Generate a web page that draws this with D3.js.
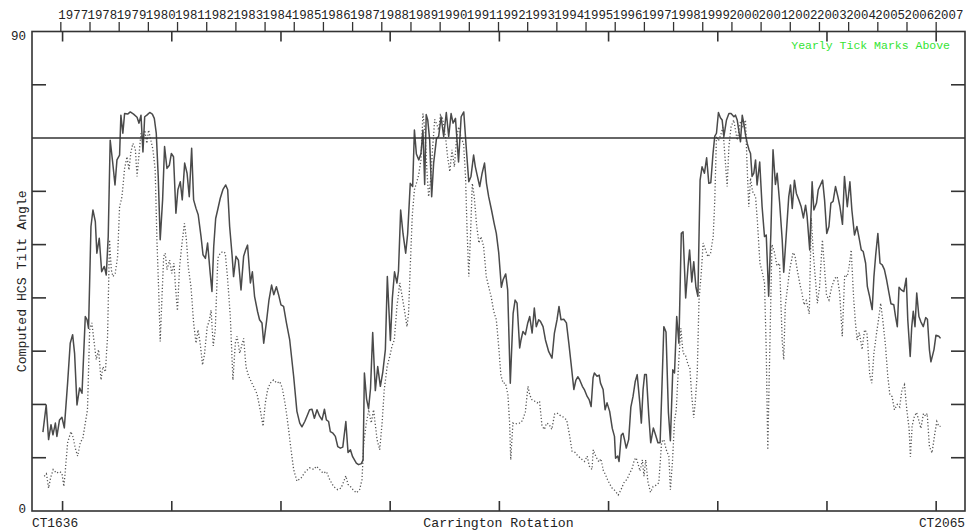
<!DOCTYPE html>
<html>
<head>
<meta charset="utf-8">
<script src="https://cdn.jsdelivr.net/npm/d3@7"></script>
<style>
  html, body { margin: 0; padding: 0; background: #fff; }
  svg { display: block; }
  text { font-family: "Liberation Mono", "DejaVu Sans Mono", monospace; fill: #222; }
</style>
</head>
<body>
<svg id="chart" width="967" height="531"></svg>
<script>
// Computed heliospheric current sheet tilt angle per Carrington rotation.
// Each entry: [Carrington rotation, tilt angle in degrees].
const tiltSolid = [
  [1641.0,14.8],[1642.5,19.9],[1643.6,13.4],[1644.7,16.2],[1645.6,14.3],[1646.7,16.5],[1647.4,14.0],[1648.6,17.1],
  [1649.7,17.6],[1650.8,15.6],[1652.3,24.0],[1653.5,31.5],[1654.6,33.1],[1655.5,29.6],[1656.6,19.9],[1657.8,23.1],
  [1658.9,22.1],[1660.4,36.5],[1661.2,35.9],[1661.9,34.3],[1663.0,53.4],[1663.9,56.5],[1665.0,54.3],[1665.7,48.4],
  [1666.8,51.2],[1667.9,44.9],[1669.1,45.9],[1670.0,44.3],[1670.9,51.5],[1671.8,69.6],[1672.9,65.6],[1674.0,61.2],
  [1674.9,65.9],[1676.1,66.8],[1676.7,74.3],[1677.6,70.9],[1678.4,74.6],[1679.8,74.5],[1681.0,74.9],[1682.5,74.5],
  [1684.1,73.9],[1685.0,72.8],[1685.9,74.3],[1686.8,67.4],[1687.6,74.0],[1688.6,74.3],[1689.9,74.8],[1691.1,74.5],
  [1692.0,73.7],[1692.9,70.9],[1693.8,62.8],[1694.7,50.9],[1695.8,58.4],[1696.7,68.4],[1697.8,64.3],[1698.9,64.9],
  [1699.8,67.1],[1700.8,66.5],[1701.9,55.9],[1702.8,60.3],[1703.9,61.8],[1704.8,58.4],[1705.9,65.3],[1707.0,63.4],
  [1708.0,59.0],[1709.1,68.1],[1710.0,58.4],[1711.1,56.8],[1712.1,55.6],[1713.4,51.5],[1714.3,48.1],[1715.4,47.4],
  [1716.4,50.3],[1717.6,44.6],[1718.4,41.2],[1719.2,49.6],[1720.1,54.9],[1721.0,56.5],[1722.2,58.7],[1723.4,60.3],
  [1724.7,61.2],[1725.6,60.3],[1726.5,53.4],[1727.6,48.1],[1728.3,44.0],[1729.4,47.8],[1730.5,47.1],[1731.7,41.5],
  [1732.9,47.8],[1733.8,49.0],[1734.7,49.9],[1736.0,42.8],[1736.9,44.9],[1737.9,40.3],[1739.3,37.4],[1740.2,35.9],
  [1741.3,35.3],[1742.1,31.5],[1743.3,35.3],[1744.5,39.6],[1745.7,42.4],[1746.7,40.6],[1747.9,42.1],[1748.9,40.6],
  [1750.0,38.7],[1751.2,38.4],[1752.5,35.3],[1754.0,32.1],[1755.8,25.3],[1757.3,18.7],[1758.6,16.5],[1759.6,15.8],
  [1760.9,16.8],[1761.9,17.8],[1763.1,19.0],[1764.2,19.1],[1765.3,17.4],[1766.5,19.0],[1767.7,17.8],[1768.8,17.1],
  [1769.9,19.1],[1770.8,17.1],[1771.8,16.8],[1772.6,14.9],[1773.8,14.6],[1774.9,14.0],[1776.0,12.1],[1777.2,11.8],
  [1778.3,12.0],[1779.7,16.8],[1780.7,11.0],[1781.8,11.5],[1782.8,10.2],[1784.5,9.0],[1785.5,8.7],[1786.8,8.9],
  [1787.6,9.6],[1788.2,25.9],[1789.2,21.0],[1790.1,19.2],[1791.0,23.0],[1792.0,33.5],[1793.2,22.6],[1794.3,27.1],
  [1795.5,23.4],[1796.6,26.0],[1797.8,30.3],[1798.7,44.0],[1800.1,32.0],[1801.0,40.0],[1802.0,44.9],[1803.1,42.8],
  [1803.8,45.0],[1804.8,56.5],[1805.9,52.0],[1807.1,48.4],[1808.0,52.0],[1809.2,61.5],[1810.3,60.9],[1811.1,71.5],
  [1812.0,67.0],[1813.1,65.9],[1814.1,67.1],[1815.0,71.5],[1815.8,61.3],[1816.5,74.4],[1817.2,73.4],[1818.1,69.6],
  [1819.0,59.0],[1819.9,65.3],[1821.2,69.9],[1822.2,70.3],[1823.3,74.0],[1824.5,70.3],[1825.7,74.8],[1826.8,70.3],
  [1827.9,74.6],[1828.8,72.8],[1829.9,73.7],[1831.3,65.5],[1832.5,74.0],[1833.7,74.9],[1834.9,67.8],[1836.0,61.8],
  [1837.0,62.8],[1838.2,66.8],[1839.0,64.6],[1839.8,63.1],[1841.0,60.9],[1842.1,63.4],[1843.2,65.3],[1844.1,61.5],
  [1845.1,59.0],[1846.4,56.5],[1847.6,54.0],[1848.6,52.1],[1849.7,48.5],[1850.9,42.0],[1851.7,43.4],[1852.9,44.5],
  [1853.8,41.5],[1855.0,24.0],[1856.3,37.1],[1857.2,39.6],[1858.1,39.0],[1859.3,30.6],[1859.9,32.1],[1860.8,33.7],
  [1861.9,33.1],[1863.0,35.3],[1863.9,36.5],[1865.0,33.4],[1866.0,38.1],[1866.9,34.6],[1868.0,35.9],[1868.8,35.6],
  [1870.0,34.6],[1871.1,32.1],[1872.6,29.9],[1874.1,28.7],[1875.2,33.4],[1876.4,35.9],[1877.3,38.4],[1878.2,35.9],
  [1879.5,36.0],[1880.7,35.3],[1881.8,31.5],[1882.8,27.8],[1884.1,22.8],[1885.0,24.5],[1885.9,25.2],[1886.8,24.6],
  [1888.0,23.4],[1888.9,22.8],[1890.2,21.5],[1891.1,20.9],[1892.0,19.6],[1892.9,25.0],[1893.5,25.9],[1894.7,25.3],
  [1895.7,25.5],[1896.3,24.0],[1897.5,22.8],[1898.4,19.0],[1899.3,20.3],[1900.5,18.7],[1901.7,15.5],[1902.7,14.0],
  [1903.2,9.9],[1904.2,10.3],[1904.8,9.3],[1905.8,14.2],[1906.6,14.6],[1907.3,13.4],[1908.1,11.8],[1909.2,13.4],
  [1910.2,19.5],[1911.2,21.5],[1912.2,24.3],[1913.1,25.6],[1914.3,20.3],[1915.0,16.5],[1915.8,22.8],[1916.5,25.6],
  [1917.3,25.6],[1918.4,18.0],[1919.3,12.8],[1920.5,15.6],[1921.5,14.3],[1922.6,12.8],[1923.6,12.8],[1924.4,22.8],
  [1925.3,34.6],[1926.3,33.6],[1927.4,18.5],[1928.3,13.2],[1929.4,26.5],[1930.2,25.9],[1931.2,36.5],[1932.2,31.5],
  [1933.3,52.1],[1934.1,52.4],[1935.3,40.0],[1936.4,46.0],[1937.1,49.0],[1938.1,43.0],[1939.0,46.8],[1940.0,42.0],
  [1940.9,40.3],[1941.9,62.1],[1942.8,64.6],[1943.9,63.4],[1944.9,66.3],[1945.9,61.5],[1946.8,61.6],[1947.8,67.0],
  [1948.6,70.3],[1949.4,70.9],[1950.3,74.8],[1951.2,73.8],[1952.0,73.4],[1952.8,70.3],[1954.0,73.4],[1955.1,74.6],
  [1956.1,74.6],[1957.4,74.0],[1958.1,74.3],[1958.9,73.4],[1959.6,71.5],[1960.4,69.3],[1961.2,74.3],[1961.9,72.8],
  [1962.7,70.6],[1963.5,69.0],[1964.3,67.8],[1965.0,67.1],[1965.7,62.8],[1966.5,63.4],[1967.3,65.9],[1968.0,61.2],
  [1969.2,65.5],[1970.3,57.1],[1971.4,51.5],[1972.2,51.8],[1973.3,40.3],[1974.3,52.0],[1975.3,67.8],[1976.4,61.3],
  [1977.2,63.4],[1978.3,58.0],[1979.5,50.9],[1980.2,44.8],[1981.5,52.8],[1982.5,59.0],[1983.3,61.2],[1984.1,56.8],
  [1985.1,62.1],[1986.0,59.6],[1987.1,58.4],[1988.2,57.1],[1989.2,55.0],[1990.2,57.4],[1990.9,55.3],[1992.1,49.0],
  [1993.2,61.8],[1994.0,56.5],[1995.2,57.8],[1996.0,60.3],[1997.0,61.2],[1998.0,62.1],[1998.9,58.4],[1999.9,52.1],
  [2000.9,53.4],[2001.8,57.8],[2002.8,58.1],[2003.9,60.9],[2005.0,59.0],[2005.9,57.2],[2007.1,53.8],[2008.0,62.8],
  [2009.3,57.1],[2010.5,61.8],[2011.4,56.5],[2012.6,51.8],[2013.7,53.4],[2014.6,51.5],[2015.7,49.0],[2016.6,48.7],
  [2017.7,46.5],[2018.5,42.1],[2019.4,40.5],[2020.7,37.8],[2021.5,44.0],[2022.3,48.0],[2023.3,52.1],[2024.3,46.5],
  [2025.3,46.2],[2026.3,45.3],[2027.3,43.4],[2028.4,40.9],[2029.3,38.9],[2030.6,38.7],[2031.4,36.5],[2032.2,34.6],
  [2033.0,42.0],[2034.0,41.5],[2035.2,41.2],[2036.3,43.7],[2037.0,35.9],[2038.1,29.0],[2038.8,34.5],[2039.5,37.5],
  [2040.3,34.6],[2041.1,40.9],[2042.1,36.5],[2043.0,35.5],[2044.1,34.6],[2045.2,36.3],[2046.0,36.0],[2046.9,30.3],
  [2047.6,28.0],[2049.0,30.3],[2049.9,33.0],[2051.2,32.8],[2052.0,32.4]
];

const tiltDotted = [
  [1641.6,6.5],[1642.6,7.0],[1643.6,4.3],[1644.5,6.2],[1645.7,7.8],[1647.2,7.1],[1648.6,7.4],[1649.7,7.1],
  [1650.6,4.6],[1651.3,7.8],[1652.3,12.8],[1653.8,14.9],[1654.8,13.9],[1655.8,11.8],[1656.9,10.3],[1658.1,12.8],
  [1659.3,13.7],[1660.4,16.5],[1661.4,19.0],[1662.4,34.0],[1663.4,35.3],[1664.5,31.5],[1665.4,28.4],[1666.5,30.3],
  [1667.6,24.6],[1668.5,27.1],[1669.6,26.1],[1670.6,32.8],[1671.5,50.9],[1672.3,45.3],[1673.1,44.0],[1674.1,44.6],
  [1675.2,47.8],[1676.1,57.1],[1677.2,59.0],[1678.4,64.3],[1679.5,66.5],[1680.4,64.0],[1681.3,67.4],[1682.2,69.0],
  [1683.3,68.0],[1684.1,62.8],[1685.0,66.9],[1685.9,70.9],[1686.8,69.6],[1687.6,71.5],[1688.6,69.0],[1689.4,71.5],
  [1690.4,69.6],[1691.4,67.8],[1692.4,64.0],[1693.2,50.9],[1694.0,41.5],[1694.7,31.8],[1695.5,40.0],[1696.3,47.8],
  [1697.0,48.4],[1697.8,45.3],[1699.0,47.1],[1700.0,44.6],[1701.0,46.5],[1701.8,41.5],[1702.6,37.6],[1703.6,46.0],
  [1704.7,50.3],[1705.8,54.0],[1706.7,50.9],[1707.6,45.6],[1708.8,42.1],[1710.0,35.3],[1711.1,31.5],[1712.0,34.0],
  [1713.0,31.5],[1714.1,27.4],[1715.0,29.5],[1716.2,34.5],[1717.2,35.8],[1718.0,37.7],[1719.0,31.0],[1719.9,34.0],
  [1721.1,47.5],[1722.2,48.4],[1723.4,48.7],[1724.5,48.4],[1725.6,43.4],[1726.8,36.5],[1728.0,24.6],[1729.1,31.5],
  [1729.9,32.8],[1731.1,29.6],[1732.0,31.0],[1732.9,32.4],[1734.0,27.0],[1735.2,25.3],[1736.7,24.0],[1737.8,23.1],
  [1739.0,22.0],[1740.5,19.0],[1741.8,15.9],[1742.8,20.2],[1743.9,22.8],[1745.1,24.0],[1746.6,24.6],[1748.2,24.0],
  [1749.4,24.3],[1750.6,23.1],[1752.0,19.9],[1753.5,15.3],[1754.6,11.5],[1755.8,7.8],[1757.3,5.6],[1759.2,6.2],
  [1761.2,7.4],[1763.1,8.1],[1765.0,7.8],[1766.2,8.4],[1767.7,7.8],[1769.3,7.1],[1770.8,7.4],[1772.3,5.9],
  [1774.1,4.6],[1776.0,4.0],[1777.5,4.3],[1778.7,5.5],[1779.7,6.6],[1780.7,5.0],[1782.0,4.5],[1783.0,4.0],
  [1784.5,3.4],[1786.0,4.0],[1787.1,5.9],[1787.9,12.8],[1789.1,16.5],[1790.2,19.0],[1791.3,16.5],[1792.4,19.0],
  [1794.0,13.4],[1795.2,11.5],[1796.3,16.5],[1797.3,22.8],[1798.6,27.1],[1799.8,29.0],[1800.8,30.9],[1801.9,32.1],
  [1803.1,38.4],[1804.4,42.8],[1805.4,40.5],[1806.5,37.8],[1807.7,34.6],[1808.4,37.0],[1809.2,45.9],[1810.1,55.3],
  [1811.1,60.3],[1812.0,61.5],[1813.0,63.0],[1814.1,65.9],[1815.0,74.6],[1816.0,71.0],[1816.8,64.0],[1817.6,59.0],
  [1818.5,62.0],[1819.4,68.0],[1820.4,73.5],[1821.4,72.5],[1822.2,71.5],[1823.0,74.3],[1824.1,73.6],[1825.3,70.3],
  [1826.3,66.5],[1827.3,63.7],[1828.3,67.8],[1829.4,64.6],[1830.4,70.0],[1831.4,72.1],[1832.5,70.0],[1833.6,69.0],
  [1834.5,62.8],[1835.2,52.8],[1836.0,44.0],[1836.8,52.0],[1837.6,61.5],[1838.5,59.0],[1839.5,54.0],[1840.6,50.3],
  [1841.6,51.5],[1842.8,49.6],[1844.0,44.0],[1845.1,42.1],[1846.2,40.3],[1847.4,37.5],[1848.6,35.9],[1849.5,31.8],
  [1850.7,25.5],[1851.7,24.0],[1852.8,24.0],[1853.9,21.8],[1854.7,16.5],[1855.2,9.6],[1856.2,16.5],[1857.3,16.3],
  [1858.4,16.5],[1859.5,16.5],[1860.6,17.0],[1861.9,18.6],[1863.1,23.4],[1863.9,21.8],[1864.9,20.9],[1866.2,20.6],
  [1867.3,20.3],[1868.4,20.6],[1869.5,16.0],[1870.6,15.3],[1871.6,16.5],[1872.7,16.3],[1874.0,15.3],[1875.3,18.2],
  [1876.4,18.4],[1877.6,18.0],[1879.0,17.7],[1880.8,17.1],[1882.1,14.3],[1883.3,11.2],[1884.6,11.0],[1885.8,10.4],
  [1886.9,10.0],[1888.0,9.6],[1889.0,9.3],[1890.2,10.3],[1891.2,8.4],[1892.4,7.8],[1893.0,11.5],[1894.2,10.2],
  [1895.6,9.2],[1896.5,9.8],[1897.6,7.6],[1898.6,6.8],[1899.5,5.9],[1900.6,5.0],[1901.6,4.3],[1903.0,3.8],
  [1904.4,3.0],[1905.7,4.0],[1907.0,5.3],[1908.5,6.0],[1909.7,7.1],[1910.8,8.0],[1911.8,9.6],[1912.6,10.0],
  [1913.4,9.0],[1914.4,7.5],[1915.5,9.6],[1916.2,6.5],[1917.0,9.6],[1918.0,5.5],[1919.2,3.5],[1920.4,4.6],
  [1921.6,4.8],[1923.0,5.3],[1924.3,13.0],[1925.3,13.4],[1926.4,11.5],[1927.6,10.3],[1928.3,4.0],[1929.3,9.6],
  [1930.2,17.0],[1931.0,19.0],[1932.1,28.0],[1933.1,34.3],[1934.1,29.6],[1935.2,29.3],[1936.4,27.4],[1937.2,27.0],
  [1938.1,21.5],[1939.0,17.5],[1939.8,21.0],[1940.6,25.9],[1941.4,39.5],[1942.5,45.0],[1943.3,50.3],[1944.4,49.0],
  [1945.5,47.7],[1946.7,48.4],[1947.9,51.5],[1948.6,58.0],[1949.4,70.3],[1950.3,69.5],[1951.3,70.5],[1952.3,72.0],
  [1953.3,66.5],[1954.3,60.9],[1955.1,68.4],[1956.1,72.1],[1957.3,73.4],[1958.9,69.6],[1960.4,73.1],[1961.6,72.0],
  [1962.7,73.4],[1963.5,64.0],[1964.2,57.1],[1965.0,62.5],[1965.9,60.0],[1967.3,59.0],[1968.2,54.0],[1969.3,46.5],
  [1970.3,45.0],[1971.4,42.8],[1972.2,30.0],[1972.9,11.5],[1973.8,30.0],[1974.8,50.0],[1976.0,48.5],[1977.1,46.0],
  [1978.3,46.5],[1979.5,32.0],[1980.2,28.4],[1980.9,38.4],[1981.8,41.5],[1983.0,45.5],[1984.5,48.5],[1985.3,48.0],
  [1986.5,45.0],[1987.7,42.4],[1988.5,41.0],[1989.5,38.7],[1990.5,39.5],[1991.9,37.0],[1992.8,55.0],[1993.8,48.0],
  [1994.8,43.0],[1995.6,39.0],[1996.6,42.0],[1997.9,50.9],[1998.8,46.0],[1999.8,40.5],[2000.9,39.6],[2002.2,42.1],
  [2003.6,43.7],[2004.7,44.0],[2005.8,41.0],[2007.0,32.8],[2008.1,44.3],[2009.3,44.0],[2010.2,46.0],[2011.1,49.0],
  [2012.2,40.0],[2013.0,35.5],[2013.8,32.1],[2014.8,33.5],[2016.1,30.3],[2017.2,34.0],[2018.3,33.5],[2019.6,25.5],
  [2020.5,24.0],[2021.5,29.6],[2022.5,32.8],[2023.6,35.9],[2024.6,39.0],[2025.7,35.3],[2026.8,31.0],[2027.8,25.5],
  [2028.8,21.8],[2029.8,21.5],[2030.9,19.0],[2032.2,20.0],[2033.3,19.5],[2034.3,22.7],[2035.5,23.7],[2036.6,18.8],
  [2037.6,15.5],[2038.2,10.2],[2039.0,16.0],[2040.0,17.7],[2041.0,18.5],[2042.0,17.1],[2043.0,15.5],[2044.2,18.3],
  [2045.2,17.8],[2045.9,18.3],[2046.9,12.1],[2048.1,10.9],[2049.4,14.6],[2050.3,16.8],[2051.2,15.9],[2052.0,15.9]
];

// Reference level drawn across the plot
const referenceAngle = 70;

// Axis ticks and labels
const angleTicks = [10, 20, 30, 40, 50, 60, 80];
const angleEndLabels = [90, 0];
const rotationTicks = [1650, 1700, 1750, 1800, 1850, 1900, 1950, 2000, 2050];
const rotationRange = [1636, 2065];
const years = d3.range(1977, 2008);
const yearStartRotation = 1649.2;   // rotation at the first yearly tick
const rotationsPerYear = 13.36;

const texts = {
  yTitle: "Computed HCS Tilt Angle",
  xTitle: "Carrington Rotation",
  note: "Yearly Tick Marks Above"
};

// Layout
const frame = { left: 32, right: 965, top: 31.5, bottom: 511 };
const svg = d3.select("#chart");

const x = d3.scaleLinear().domain([1636, 2063.2]).range([frame.left, frame.right]);
const y = d3.scaleLinear().domain([0, 90]).range([frame.bottom, frame.top]);

const ink = "#333";

// Tilt curves
const line = d3.line().x(d => x(d[0])).y(d => y(d[1]));

svg.append("path")
  .datum(tiltDotted)
  .attr("d", line)
  .attr("fill", "none")
  .attr("stroke", "#555")
  .attr("stroke-width", 1.3)
  .attr("stroke-dasharray", "1.2,2.1");

svg.append("path")
  .datum(tiltSolid)
  .attr("d", line)
  .attr("fill", "none")
  .attr("stroke", "#4a4a4a")
  .attr("stroke-width", 1.5)
  .attr("stroke-linejoin", "round");

// Reference line
svg.append("line")
  .attr("x1", frame.left).attr("x2", frame.right)
  .attr("y1", y(referenceAngle)).attr("y2", y(referenceAngle))
  .attr("stroke", ink).attr("stroke-width", 1.6);

// Frame
svg.append("rect")
  .attr("x", frame.left).attr("y", frame.top)
  .attr("width", frame.right - frame.left).attr("height", frame.bottom - frame.top)
  .attr("fill", "none").attr("stroke", ink).attr("stroke-width", 1.6);

// Left and right inward angle ticks
const tickG = svg.append("g").attr("stroke", ink).attr("stroke-width", 1.6);
angleTicks.forEach(v => {
  tickG.append("line").attr("x1", frame.left).attr("x2", frame.left + 14)
    .attr("y1", y(v)).attr("y2", y(v));
  tickG.append("line").attr("x1", frame.right - 14).attr("x2", frame.right)
    .attr("y1", y(v)).attr("y2", y(v));
});

// Rotation ticks: inward on top and bottom
rotationTicks.forEach(r => {
  tickG.append("line").attr("x1", x(r)).attr("x2", x(r))
    .attr("y1", frame.top).attr("y2", frame.top + 10);
  tickG.append("line").attr("x1", x(r)).attr("x2", x(r))
    .attr("y1", frame.bottom).attr("y2", frame.bottom - 10);
});

// Yearly ticks above the frame
const yearX = yr => x(yearStartRotation + (yr - years[0]) * rotationsPerYear);
const yearG = svg.append("g");
years.forEach(yr => {
  yearG.append("line")
    .attr("x1", yearX(yr)).attr("x2", yearX(yr))
    .attr("y1", frame.top - 9.5).attr("y2", frame.top)
    .attr("stroke", ink).attr("stroke-width", 1.3);
  yearG.append("text")
    .attr("x", yearX(yr) - 2.5).attr("y", 19)
    .attr("font-size", 12.4)
    .attr("fill", "#2a2438")
    .text(yr);
});

// Angle end labels
svg.append("text").attr("x", 26).attr("y", y(angleEndLabels[0]) + 8)
  .attr("text-anchor", "end").attr("font-size", 12.5).text(angleEndLabels[0]);
svg.append("text").attr("x", 26).attr("y", y(angleEndLabels[1]) + 2)
  .attr("text-anchor", "end").attr("font-size", 12.5).text(angleEndLabels[1]);

// Axis titles
svg.append("text")
  .attr("transform", `translate(26,${(frame.top + frame.bottom) / 2 + 10}) rotate(-90)`)
  .attr("text-anchor", "middle").attr("font-size", 13.2)
  .text(texts.yTitle);

svg.append("text")
  .attr("x", (frame.left + frame.right) / 2).attr("y", 527)
  .attr("text-anchor", "middle").attr("font-size", 13.2)
  .text(texts.xTitle);

svg.append("text")
  .attr("x", frame.left).attr("y", 527)
  .attr("font-size", 12.8)
  .text("CT" + rotationRange[0]);

svg.append("text")
  .attr("x", frame.right).attr("y", 527)
  .attr("text-anchor", "end").attr("font-size", 12.8)
  .text("CT" + rotationRange[1]);

// Note about the yearly ticks
svg.append("text")
  .attr("x", 950).attr("y", 48.5)
  .attr("text-anchor", "end").attr("font-size", 11.5)
  .style("fill", "#33e433")
  .text(texts.note);
</script>
</body>
</html>
